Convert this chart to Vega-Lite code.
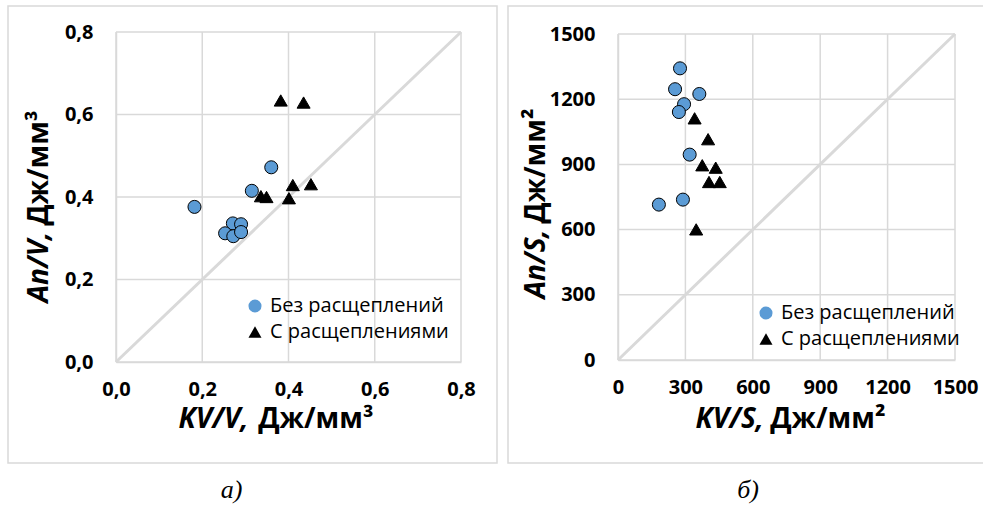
{
  "$schema": "https://vega.github.io/schema/vega-lite/v6.json",
  "padding": {"left": 7, "top": 5, "right": 0, "bottom": 0},
  "background": "white",
  "spacing": 9,
  "config": {
    "view": {"stroke": "#d9d9d9", "strokeWidth": 1.5},
    "font": "Open Sans",
    "axis": {
      "grid": false,
      "domainColor": "#d9d9d9", "domainWidth": 1.5, "ticks": false,
      "labelFont": "Open Sans", "labelFontWeight": "bold", "labelFontSize": 20, "labelColor": "black",
      "labelFlush": false, "labelOverlap": false, "labelBound": false,
      "titleFont": "Open Sans", "titleFontWeight": "bold", "titleFontSize": 28, "titleColor": "black", "titleBaseline": "middle"
    },
    "legend": {
      "labelFont": "Open Sans", "labelFontSize": 20, "labelColor": "black", "labelLimit": 500,
      "symbolSize": 170, "symbolStrokeColor": "black", "symbolStrokeWidth": 1,
      "rowPadding": 6, "labelOffset": 5, "padding": 0
    },
    "title": {"font": "Liberation Serif", "fontStyle": "italic", "fontWeight": "normal", "fontSize": 26, "color": "black", "orient": "bottom", "anchor": "middle", "offset": 14}
  },
  "resolve": {"scale": {"shape": "independent", "fill": "independent"}, "legend": {"shape": "independent", "fill": "independent"}},
  "hconcat": [
    {
      "width": 489, "height": 457,
      "title": {"text": "а)", "dx": -21},
      "resolve": {"axis": {"x": "independent", "y": "independent"}},
      "layer": [
        {
          "data": {"values": [{"g": 0}, {"g": 0.2}, {"g": 0.4}, {"g": 0.6}, {"g": 0.8}]},
          "mark": {"type": "rule", "color": "#d9d9d9", "strokeWidth": 1.5},
          "encoding": {
            "x": {"field": "g", "type": "quantitative", "scale": {"domain": [0, 0.8], "range": [108, 453], "nice": false, "zero": false}, "axis": null},
            "y": {"datum": 0, "type": "quantitative", "scale": {"domain": [0, 0.8], "range": [356, 26], "nice": false, "zero": false}, "axis": null},
            "y2": {"datum": 0.8}
          }
        },
        {
          "data": {"values": [{"g": 0}, {"g": 0.2}, {"g": 0.4}, {"g": 0.6}, {"g": 0.8}]},
          "mark": {"type": "rule", "color": "#d9d9d9", "strokeWidth": 1.5},
          "encoding": {
            "y": {"field": "g", "type": "quantitative", "scale": {"domain": [0, 0.8], "range": [356, 26], "nice": false, "zero": false}, "axis": null},
            "x": {"datum": 0, "type": "quantitative", "scale": {"domain": [0, 0.8], "range": [108, 453], "nice": false, "zero": false}, "axis": null},
            "x2": {"datum": 0.8}
          }
        },
        {
          "data": {"values": [{"x": 0, "y": 0}, {"x": 0.8, "y": 0.8}]},
          "mark": {"type": "line", "color": "#d9d9d9", "strokeWidth": 3},
          "encoding": {
            "x": {"field": "x", "type": "quantitative", "scale": {"domain": [0, 0.8], "range": [108, 453], "nice": false, "zero": false},
              "axis": {"orient": "bottom", "offset": -101, "labels": false, "domain": false, "ticks": false, "grid": false,
                "title": "Дж/мм³", "titleX": 365, "titleY": 57, "titleAlign": "right", "titleFontStyle": "normal"}},
            "y": {"field": "y", "type": "quantitative", "scale": {"domain": [0, 0.8], "range": [356, 26], "nice": false, "zero": false},
              "axis": {"orient": "left", "offset": -108, "labels": false, "domain": false, "ticks": false, "grid": false,
                "title": "Дж/мм³", "titleX": -77, "titleY": 104, "titleAngle": -90, "titleAlign": "right", "titleFontStyle": "normal"}}
          }
        },
        {
          "data": {"values": [
            {"x": 0.182, "y": 0.376, "type": "Без расщеплений"},
            {"x": 0.360, "y": 0.472, "type": "Без расщеплений"},
            {"x": 0.315, "y": 0.415, "type": "Без расщеплений"},
            {"x": 0.271, "y": 0.336, "type": "Без расщеплений"},
            {"x": 0.290, "y": 0.334, "type": "Без расщеплений"},
            {"x": 0.253, "y": 0.312, "type": "Без расщеплений"},
            {"x": 0.272, "y": 0.305, "type": "Без расщеплений"},
            {"x": 0.290, "y": 0.315, "type": "Без расщеплений"},
            {"x": 0.382, "y": 0.634, "type": "С расщеплениями"},
            {"x": 0.435, "y": 0.629, "type": "С расщеплениями"},
            {"x": 0.410, "y": 0.429, "type": "С расщеплениями"},
            {"x": 0.452, "y": 0.431, "type": "С расщеплениями"},
            {"x": 0.336, "y": 0.402, "type": "С расщеплениями"},
            {"x": 0.349, "y": 0.400, "type": "С расщеплениями"},
            {"x": 0.401, "y": 0.397, "type": "С расщеплениями"}
          ]},
          "mark": {"type": "point", "filled": true, "size": 170, "stroke": "black", "strokeWidth": 1, "opacity": 1},
          "encoding": {
            "x": {"field": "x", "type": "quantitative", "scale": {"domain": [0, 0.8], "range": [108, 453], "nice": false, "zero": false},
              "axis": {"orient": "bottom", "values": [0, 0.2, 0.4, 0.6, 0.8], "labelExpr": "replace(format(datum.value, '.1f'), '.', ',')",
                "offset": -101, "labelPadding": 17, "title": "KV/V,", "titleX": 170, "titleY": 57, "titleAlign": "left", "titleFontStyle": "italic"}},
            "y": {"field": "y", "type": "quantitative", "scale": {"domain": [0, 0.8], "range": [356, 26], "nice": false, "zero": false},
              "axis": {"orient": "left", "values": [0, 0.2, 0.4, 0.6, 0.8], "labelExpr": "replace(format(datum.value, '.1f'), '.', ',')",
                "offset": -108, "labelPadding": 23, "title": "Aп/V,", "titleX": -77, "titleY": 296, "titleAngle": -90, "titleAlign": "left", "titleFontStyle": "italic"}},
            "shape": {"field": "type", "type": "nominal",
              "scale": {"domain": ["Без расщеплений", "С расщеплениями"], "range": ["circle", "triangle-up"]},
              "legend": {"orient": "none", "legendX": 237, "legendY": 290, "title": null}},
            "fill": {"field": "type", "type": "nominal",
              "scale": {"domain": ["Без расщеплений", "С расщеплениями"], "range": ["#5b9bd5", "#000000"]},
              "legend": {"orient": "none", "legendX": 237, "legendY": 290, "title": null}}
          }
        }
      ]
    },
    {
      "width": 480, "height": 457,
      "title": {"text": "б)"},
      "resolve": {"axis": {"x": "independent", "y": "independent"}},
      "layer": [
        {
          "data": {"values": [{"g": 0}, {"g": 300}, {"g": 600}, {"g": 900}, {"g": 1200}, {"g": 1500}]},
          "mark": {"type": "rule", "color": "#d9d9d9", "strokeWidth": 1.5},
          "encoding": {
            "x": {"field": "g", "type": "quantitative", "scale": {"domain": [0, 1500], "range": [110, 447], "nice": false, "zero": false}, "axis": null},
            "y": {"datum": 0, "type": "quantitative", "scale": {"domain": [0, 1500], "range": [354, 28], "nice": false, "zero": false}, "axis": null},
            "y2": {"datum": 1500}
          }
        },
        {
          "data": {"values": [{"g": 0}, {"g": 300}, {"g": 600}, {"g": 900}, {"g": 1200}, {"g": 1500}]},
          "mark": {"type": "rule", "color": "#d9d9d9", "strokeWidth": 1.5},
          "encoding": {
            "y": {"field": "g", "type": "quantitative", "scale": {"domain": [0, 1500], "range": [354, 28], "nice": false, "zero": false}, "axis": null},
            "x": {"datum": 0, "type": "quantitative", "scale": {"domain": [0, 1500], "range": [110, 447], "nice": false, "zero": false}, "axis": null},
            "x2": {"datum": 1500}
          }
        },
        {
          "data": {"values": [{"x": 0, "y": 0}, {"x": 1500, "y": 1500}]},
          "mark": {"type": "line", "color": "#d9d9d9", "strokeWidth": 3},
          "encoding": {
            "x": {"field": "x", "type": "quantitative", "scale": {"domain": [0, 1500], "range": [110, 447], "nice": false, "zero": false},
              "axis": {"orient": "bottom", "offset": -103, "labels": false, "domain": false, "ticks": false, "grid": false,
                "title": "Дж/мм²", "titleX": 377, "titleY": 59, "titleAlign": "right", "titleFontStyle": "normal"}},
            "y": {"field": "y", "type": "quantitative", "scale": {"domain": [0, 1500], "range": [354, 28], "nice": false, "zero": false},
              "axis": {"orient": "left", "offset": -110, "labels": false, "domain": false, "ticks": false, "grid": false,
                "title": "Дж/мм²", "titleX": -82, "titleY": 102, "titleAngle": -90, "titleAlign": "right", "titleFontStyle": "normal"}}
          }
        },
        {
          "data": {"values": [
            {"x": 276, "y": 1342, "type": "Без расщеплений"},
            {"x": 254, "y": 1246, "type": "Без расщеплений"},
            {"x": 362, "y": 1224, "type": "Без расщеплений"},
            {"x": 294, "y": 1177, "type": "Без расщеплений"},
            {"x": 271, "y": 1141, "type": "Без расщеплений"},
            {"x": 319, "y": 945, "type": "Без расщеплений"},
            {"x": 289, "y": 738, "type": "Без расщеплений"},
            {"x": 182, "y": 715, "type": "Без расщеплений"},
            {"x": 341, "y": 1112, "type": "С расщеплениями"},
            {"x": 401, "y": 1016, "type": "С расщеплениями"},
            {"x": 375, "y": 896, "type": "С расщеплениями"},
            {"x": 435, "y": 885, "type": "С расщеплениями"},
            {"x": 405, "y": 819, "type": "С расщеплениями"},
            {"x": 453, "y": 819, "type": "С расщеплениями"},
            {"x": 348, "y": 601, "type": "С расщеплениями"}
          ]},
          "mark": {"type": "point", "filled": true, "size": 170, "stroke": "black", "strokeWidth": 1, "opacity": 1},
          "encoding": {
            "x": {"field": "x", "type": "quantitative", "scale": {"domain": [0, 1500], "range": [110, 447], "nice": false, "zero": false},
              "axis": {"orient": "bottom", "values": [0, 300, 600, 900, 1200, 1500], "format": "d",
                "offset": -103, "labelPadding": 17, "title": "KV/S,", "titleX": 187, "titleY": 59, "titleAlign": "left", "titleFontStyle": "italic"}},
            "y": {"field": "y", "type": "quantitative", "scale": {"domain": [0, 1500], "range": [354, 28], "nice": false, "zero": false},
              "axis": {"orient": "left", "values": [0, 300, 600, 900, 1200, 1500], "format": "d",
                "offset": -110, "labelPadding": 23, "title": "Aп/S,", "titleX": -82, "titleY": 292, "titleAngle": -90, "titleAlign": "left", "titleFontStyle": "italic"}},
            "shape": {"field": "type", "type": "nominal",
              "scale": {"domain": ["Без расщеплений", "С расщеплениями"], "range": ["circle", "triangle-up"]},
              "legend": {"orient": "none", "legendX": 248, "legendY": 297, "title": null}},
            "fill": {"field": "type", "type": "nominal",
              "scale": {"domain": ["Без расщеплений", "С расщеплениями"], "range": ["#5b9bd5", "#000000"]},
              "legend": {"orient": "none", "legendX": 248, "legendY": 297, "title": null}}
          }
        }
      ]
    }
  ]
}
